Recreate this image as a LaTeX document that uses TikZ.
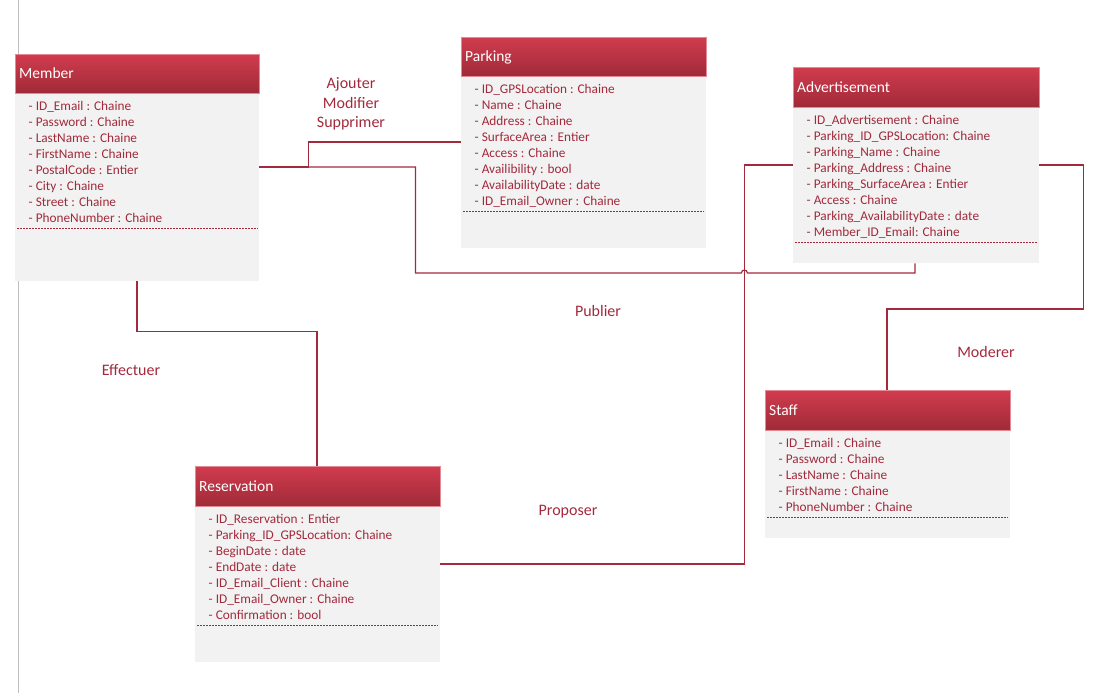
\documentclass[tikz,border=0pt]{standalone}
\usepackage{fontspec}
\setmainfont{Carlito}
\usetikzlibrary{calc}
\definecolor{hdtop}{HTML}{D03C4E}
\definecolor{hdbot}{HTML}{A02A38}
\definecolor{hdedge}{HTML}{E48A95}
\definecolor{txt}{HTML}{A22A3C}
\definecolor{bodyfill}{HTML}{F2F2F2}
\definecolor{leftline}{HTML}{BDBDBD}
\tikzset{
  hdr/.style={anchor=north west, inner sep=0pt, top color=hdtop, bottom color=hdbot, draw=hdedge, line width=0.6pt},
  ttl/.style={anchor=west, inner sep=0pt, text=white, font=\fontsize{15.5}{18}\selectfont, text height=10pt, text depth=0pt},
  bodybox/.style={anchor=north west, inner sep=0pt, fill=bodyfill},
  attr/.style={anchor=base west, inner sep=0pt, text=txt, font=\fontsize{13.3}{16}\selectfont},
  sepline/.style={draw=txt, line width=0.7pt, dash pattern=on 2pt off 1pt},
  conn/.style={draw=txt, line width=1.2pt},
  lbl/.style={text=txt, font=\fontsize{16}{19.5}\selectfont, align=center, inner sep=0pt}
}
% #1 name, #2 x, #3 y, #4 width, #5 header height, #6 body height, #7 number of lines, #8 title, #9 attributes
\newcommand\umlclass[9]{%
  \node[hdr, minimum width=#4pt, minimum height=#5pt] (#1) at (#2,#3) {};
  \node[ttl] (#1-title) at ($(#1.west)+(4,0)$) {#8};
  \node[bodybox, minimum width=#4pt, minimum height=#6pt] (#1-body) at (#2,{#3+#5+1}) {};
  \foreach \a [count=\i] in {#9} {
    \node[attr] (#1-a\i) at ($(#1-body.north west)+(13.5,{16.3+(\i-1)*16.05})$) {\a};
  }
  \draw[sepline] ($(#1-body.north west)+(2,{22+(#7-1)*16})$) -- ($(#1-body.north east)+(-2,{22+(#7-1)*16})$);
}
\begin{document}
\begin{tikzpicture}[x=1pt,y=-1pt]
\useasboundingbox (0,0) rectangle (1095,693);
\draw[leftline, line width=1pt] (18,0) -- (18,693);

\umlclass{member}{15}{54}{244}{39}{187}{8}{Member}{%
  {- ID\_Email : Chaine},{- Password : Chaine},{- LastName : Chaine},{- FirstName : Chaine},%
  {- PostalCode : Entier},{- City : Chaine},{- Street : Chaine},{- PhoneNumber : Chaine}}
\umlclass{parking}{461}{37}{245}{39}{171}{8}{Parking}{%
  {- ID\_GPSLocation : Chaine},{- Name : Chaine},{- Address : Chaine},{- SurfaceArea : Entier},%
  {- Access : Chaine},{- Availibility : bool},{- AvailabilityDate : date},{- ID\_Email\_Owner : Chaine}}
\umlclass{advert}{793}{67}{246}{40}{155}{8}{Advertisement}{%
  {- ID\_Advertisement : Chaine},{- Parking\_ID\_GPSLocation: Chaine},{- Parking\_Name : Chaine},%
  {- Parking\_Address : Chaine},{- Parking\_SurfaceArea : Entier},{- Access : Chaine},%
  {- Parking\_AvailabilityDate : date},{- Member\_ID\_Email: Chaine}}
\umlclass{reserv}{195}{466}{245}{40}{155}{7}{Reservation}{%
  {- ID\_Reservation : Entier},{- Parking\_ID\_GPSLocation: Chaine},{- BeginDate : date},%
  {- EndDate : date},{- ID\_Email\_Client : Chaine},{- ID\_Email\_Owner : Chaine},{- Confirmation : bool}}
\umlclass{staff}{765}{390}{245}{40}{107}{5}{Staff}{%
  {- ID\_Email : Chaine},{- Password : Chaine},{- LastName : Chaine},{- FirstName : Chaine},{- PhoneNumber : Chaine}}

% connector end points
\coordinate (m-e) at ($(member-body.north east)+(0,73)$);
\coordinate (m-s) at ($(member-body.south west)+(122,0)$);
\coordinate (p-w) at ($(parking-body.north west)+(0,65)$);
\coordinate (a-s) at ($(advert-body.south west)+(122,0)$);
\coordinate (ad-w) at ($(advert-body.north west)+(0,57)$);
\coordinate (ad-e) at ($(advert-body.north east)+(0,57)$);
\coordinate (r-e) at ($(reserv-body.north east)+(0,57)$);
\coordinate (r-n) at ($(reserv.north west)+(122,0)$);
\coordinate (s-n) at ($(staff.north west)+(122,0)$);

% Member - Parking
\draw[conn] (m-e) -- ++(49,0) |- (p-w);
% Member - Advertisement (with hop)
\draw[conn] (m-e) -- ++(156,0) -- ++(0,106) -- ++(326,0)
  arc[start angle=180, end angle=0, radius=3pt] -| (a-s);
% Reservation - Advertisement
\draw[conn] (r-e) -- ++(304,0) |- (ad-w);
% Member - Reservation
\draw[conn] (m-s) -- ++(0,50) -| (r-n);
% Advertisement - Staff
\draw[conn] (ad-e) -- ++(44,0) -- ++(0,144) -| (s-n);

% labels
\node[lbl] (l-ams) at (351,104) {Ajouter\\Modifier\\Supprimer};
\node[lbl] (l-pub) at (598,311.5) {Publier};
\node[lbl] (l-eff) at (131,370.5) {Effectuer};
\node[lbl] (l-pro) at (568,512) {Proposer};
\node[lbl] (l-mod) at (986,351.5) {Moderer};
\end{tikzpicture}
\end{document}
